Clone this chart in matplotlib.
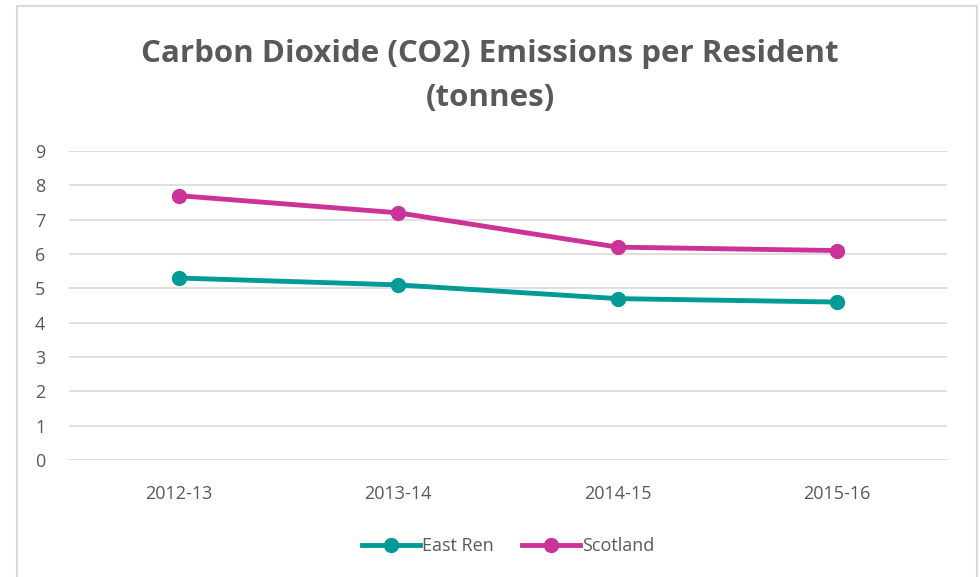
import matplotlib.pyplot as plt
from matplotlib.patches import Rectangle

# data
years = ['2012-13', '2013-14', '2014-15', '2015-16']
east_ren = [5.3, 5.1, 4.7, 4.6]
scotland = [7.7, 7.2, 6.2, 6.1]

plt.rcParams['font.family'] = ['Open Sans', 'DejaVu Sans']
grey = '#595959'

fig = plt.figure(figsize=(9.8, 5.77), dpi=100)
ax = fig.add_axes([0.0704, 0.2028, 0.8959, 0.5355])

# chart border like excel
fig.patches.append(Rectangle((17 / 980, -0.1), 960 / 980, 1 - 6 / 577 + 0.1,
                             transform=fig.transFigure, fill=False,
                             edgecolor='#d9d9d9', linewidth=1.5))

x = range(len(years))
ax.plot(x, east_ren, color='#009a97', linewidth=3.5, marker='o', markersize=10, label='East Ren')
ax.plot(x, scotland, color='#cc3399', linewidth=3.5, marker='o', markersize=10, label='Scotland')

ax.set_xlim(-0.5, 3.5)
ax.set_ylim(0, 9)
ax.set_yticks(range(10))
ax.set_xticks(list(x))
ax.set_xticklabels(years)
ax.grid(axis='y', color='#d9d9d9', linewidth=1.2)
ax.set_axisbelow(True)
for s in ax.spines.values():
    s.set_visible(False)
ax.tick_params(length=0, labelsize=13, colors=grey)
ax.tick_params(axis='x', pad=18)
ax.tick_params(axis='y', pad=17)

fig.text(0.5, 0.868, 'Carbon Dioxide (CO2) Emissions per Resident\n(tonnes)',
         ha='center', va='center', fontsize=22.5, fontweight='bold', color=grey,
         linespacing=1.62)

leg = ax.legend(loc='center', bbox_to_anchor=(0.5, -0.28), ncol=2, frameon=False,
                fontsize=13, handlelength=3.2, handletextpad=0.1, columnspacing=1.6)
for t in leg.get_texts():
    t.set_color(grey)

fig.savefig('out.png', dpi=100)
